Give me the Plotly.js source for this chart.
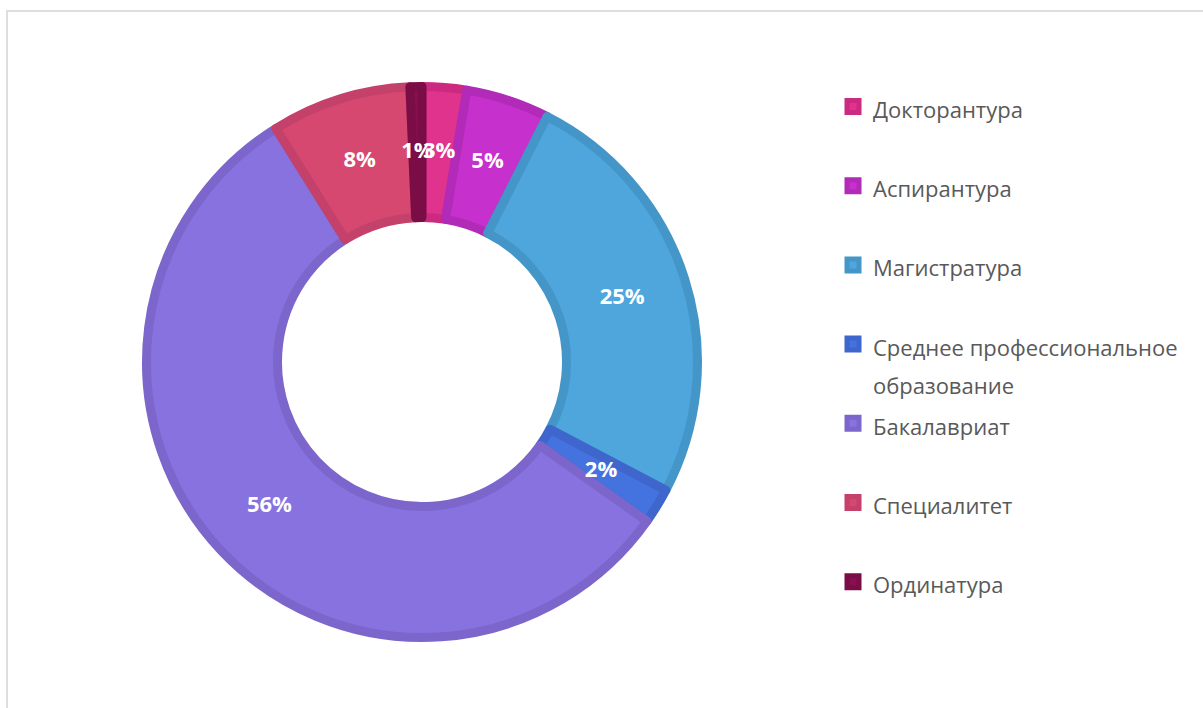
<!DOCTYPE html>
<html>
<head>
<meta charset="utf-8">
<script src="https://cdn.plot.ly/plotly-3.0.1.min.js"></script>
<style>
  html, body { margin: 0; padding: 0; width: 1203px; height: 708px; overflow: hidden; background: #ffffff; }
  #frame { position: absolute; left: 6px; top: 10px; width: 1300px; height: 800px;
           border-top: 2px solid #dedede; border-left: 2px solid #dedede; }
  #chart { position: absolute; left: 0; top: 0; width: 1203px; height: 708px; }
</style>
</head>
<body>
<div id="frame"></div>
<div id="chart"></div>
<script>
const categories = ['Докторантура', 'Аспирантура', 'Магистратура', 'Среднее профессиональное образование', 'Бакалавриат', 'Специалитет', 'Ординатура'];
const legendLabels = ['Докторантура', 'Аспирантура', 'Магистратура', 'Среднее профессиональное<br>образование', 'Бакалавриат', 'Специалитет', 'Ординатура'];
const shares = [2.6, 4.9, 25.2, 2.1, 56.3, 8.2, 0.7];
const fillColors = ['#E0338E', '#C630CC', '#4EA6DC', '#4472DF', '#8872E0', '#D6486F', '#8A0F50'];
const borderColors = ['#CB2A80', '#B22AB8', '#4496C8', '#3E66CC', '#7C66CC', '#C3416A', '#7A0D46'];

const W = 1203, H = 708;
const cx = 422, cy = 362, R = 275.5;
const HOLE = 0.5245;
const dom = { x: [(cx - R) / W, (cx + R) / W], y: [(H - cy - R) / H, (H - cy + R) / H] };

const labelsHtml = legendLabels.map(function (l) {
  const lines = l.split('<br>');
  const parts = lines.map(function (s) { return '<span style="font-size:22px">' + s + '</span>'; });
  if (parts.length === 1) parts.push('<span style="font-size:22px">&nbsp;</span>');
  return parts.join('<br>');
});

const total = shares.reduce(function (a, b) { return a + b; }, 0);
let acc = 0;
const midAngles = shares.map(function (v) { const m = (acc + v / 2) / total * 360; acc += v; return m; });
const pctText = shares.map(function (v) { return Math.round(v / total * 100) + '%'; });

const pie = {
  type: 'pie',
  labels: labelsHtml,
  values: shares,
  sort: false,
  direction: 'clockwise',
  rotation: 0,
  hole: HOLE,
  domain: dom,
  marker: { colors: fillColors, line: { color: borderColors, width: 9 } },
  textinfo: 'none',
  hoverinfo: 'label+percent'
};

const labelsTrace = {
  type: 'scatterpolar',
  mode: 'text',
  r: shares.map(function () { return (1 + HOLE) / 2; }),
  theta: midAngles,
  text: pctText,
  textposition: 'middle center',
  textfont: { family: 'Open Sans, sans-serif', size: 22, color: '#ffffff', weight: 'bold' },
  showlegend: false,
  hoverinfo: 'skip'
};

const layout = {
  width: W, height: H,
  margin: { l: 0, r: 0, t: 0, b: 0 },
  paper_bgcolor: 'rgba(0,0,0,0)',
  plot_bgcolor: 'rgba(0,0,0,0)',
  showlegend: true,
  polar: {
    domain: dom,
    bgcolor: 'rgba(0,0,0,0)',
    radialaxis: { range: [0, 1], visible: false, showgrid: false },
    angularaxis: { rotation: 90, direction: 'clockwise', visible: false, showgrid: false }
  },
  legend: {
    x: 833 / W, xanchor: 'left',
    y: (H - 81) / H, yanchor: 'top',
    valign: 'top',
    bgcolor: 'rgba(0,0,0,0)',
    font: { family: 'Open Sans, sans-serif', size: 29.3, color: '#595959' },
    traceorder: 'normal'
  }
};

function raisePolar() {
  const svg = document.querySelector('#chart .main-svg');
  if (!svg) return;
  const polar = svg.querySelector('g.polarlayer');
  const pieLayer = svg.querySelector('g.pielayer');
  if (polar && pieLayer && pieLayer.parentNode === polar.parentNode) {
    pieLayer.parentNode.insertBefore(polar, pieLayer.nextSibling);
  }
}

Plotly.newPlot('chart', [pie, labelsTrace], layout, { displayModeBar: false, staticPlot: true }).then(raisePolar);
raisePolar();
</script>
</body>
</html>
